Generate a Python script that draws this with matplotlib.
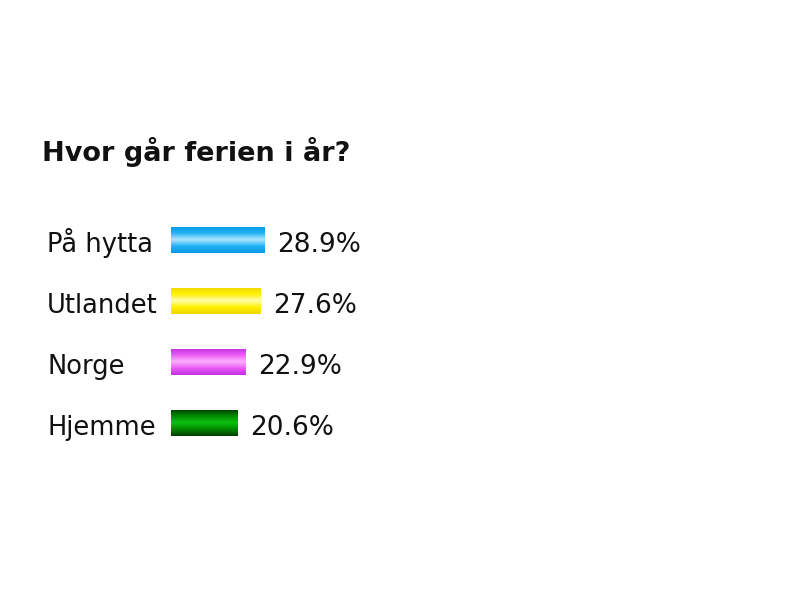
import numpy as np
import matplotlib.pyplot as plt
from matplotlib.colors import LinearSegmentedColormap

categories = ["På hytta", "Utlandet", "Norge", "Hjemme"]
values = [28.9, 27.6, 22.9, 20.6]
value_labels = ["28.9%", "27.6%", "22.9%", "20.6%"]
title = "Hvor går ferien i år?"

# edge, mid, highlight colours for the shiny bars
bar_shades = [
    ("#0a98e4", "#1fb2f6", "#b0e8ff"),
    ("#f0d800", "#fff000", "#ffffb0"),
    ("#c030e0", "#ec5cf6", "#ffb0ff"),
    ("#003c00", "#008a00", "#10c010"),
]

fig = plt.figure(figsize=(8, 6), dpi=100)
fig.patch.set_facecolor("white")

# axes placed in pixels: value 0 at x=171, 3.25 px per percent
ax = fig.add_axes([171 / 800, (600 - 453.5) / 600, 400 / 800, 244 / 600])
ax.set_xlim(0, 400 / 3.25)
ax.set_ylim(3.5, -0.5)
ax.axis("off")

y = np.arange(len(categories))
bars = ax.barh(y, values, height=0.43, color="none", edgecolor="none")

prof = np.linspace(0, 1, 64)
for bar, shades in zip(bars, bar_shades):
    edge, mid, hi = shades
    cmap = LinearSegmentedColormap.from_list("shine", [edge, mid, hi, mid, edge])
    grad = np.tile(prof[:, None], (1, 2))
    x0, y0 = bar.get_x(), bar.get_y()
    w, h = bar.get_width(), bar.get_height()
    im = ax.imshow(grad, cmap=cmap, aspect="auto", extent=[x0, x0 + w, y0 + h, y0],
                   interpolation="bicubic", zorder=2)
    im.set_clip_path(bar)

for yi, v, lab in zip(y, values, value_labels):
    ax.annotate(lab, xy=(v, yi + 0.197), xytext=(9, 0), textcoords="offset points",
                va="baseline", ha="left", fontsize=19, color="#111111")

for yi, cat in zip(y, categories):
    fig.text(47 / 800, 1 - (252 + 61 * yi) / 600, cat, va="baseline", ha="left",
             fontsize=18.5, color="#111111")

fig.text(42 / 800, 1 - 161 / 600, title, va="baseline", ha="left",
         fontsize=19.5, fontweight="bold", color="#111111")

fig.savefig("out.png", dpi=100, facecolor="white")
